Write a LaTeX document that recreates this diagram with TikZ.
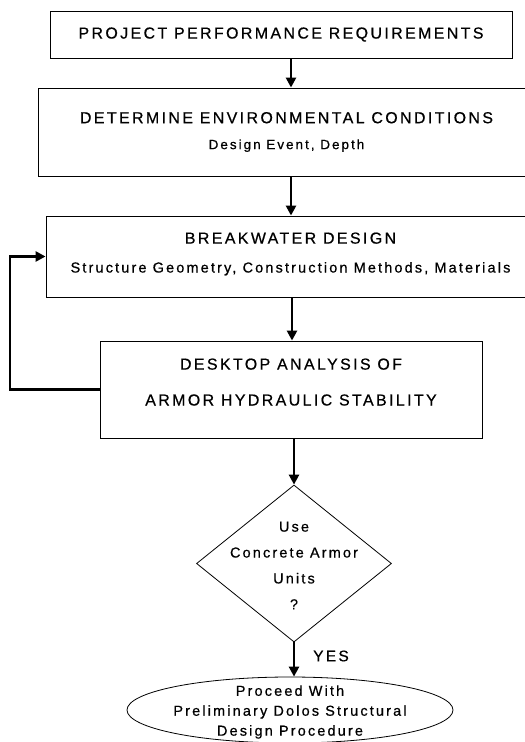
\documentclass[tikz,border=0pt]{standalone}
\usepackage{fontspec}
\setmainfont{Liberation Sans}[LetterSpace=15,FakeBold=0.6]
\usetikzlibrary{arrows.meta,shapes.geometric}

\begin{document}
\begin{tikzpicture}[x=1bp,y=-1bp,
            box/.style = {draw, line width=0.9bp, rectangle, align=center, inner sep=0pt},
            flow/.style = {line width=2.8bp, -{Triangle[width=10bp,length=10bp]}},
            big/.style = {font=\fontsize{16}{29}\selectfont},
            small/.style = {font=\fontsize{14.5}{26}\selectfont, align=center}]
    \clip (0,0) rectangle (525,742);
    \node[box, big, minimum width=462bp, minimum height=47bp] (req) at (281,34.5)
        {PROJECT PERFORMANCE REQUIREMENTS};
    \node[box, big, minimum width=497bp, minimum height=88bp] (env) at (286.5,132)
        {DETERMINE ENVIRONMENTAL CONDITIONS\\[-3bp]
         {\fontsize{13.5}{26}\selectfont Design Event, Depth}};
    \node[box, big, minimum width=489bp, minimum height=81bp, text depth=8bp] (des) at (290.5,256.5)
        {BREAKWATER DESIGN\\
         {\fontsize{14.5}{29}\selectfont Structure Geometry, Construction Methods, Materials}};
    \node[box, big, minimum width=382bp, minimum height=97bp, text depth=15bp] (ana) at (291,389.5)
        {DESKTOP ANALYSIS OF\\[7bp] ARMOR HYDRAULIC STABILITY};
    \node[draw, diamond, line width=0.8bp, minimum width=195bp, minimum height=157bp] (use) at (294,563.5) {};
    \node[small] (usetext) at (294,565.5) {Use\\Concrete Armor\\Units\\?};
    \node[draw, ellipse, line width=0.8bp, minimum width=326bp, minimum height=66bp] (dolos) at (290,710) {};
    \node[small, font=\fontsize{14.5}{20}\selectfont] (dolostext) at (290,712)
        {Proceed With\\Preliminary Dolos Structural\\Design Procedure};
    \node[font=\fontsize{15.5}{18}\selectfont] (yes) at (331,656) {YES};

    \coordinate (spine) at (291,0);
    \coordinate (back) at (10,0);
    \draw[flow] (req.south -| spine) -- (env.north -| spine);
    \draw[flow] (env.south -| spine) -- (des.north -| spine);
    \draw[flow] ([xshift=1bp]des.south -| spine) -- ([xshift=1bp]ana.north -| spine);
    \draw[flow] (ana.south -| use.north) -- (use.north);
    \draw[flow] (use.south) -- (dolos.north -| use.south);
    \draw[flow] (ana.west) -- (ana.west -| back) |- (des.west);
\end{tikzpicture}
\end{document}
